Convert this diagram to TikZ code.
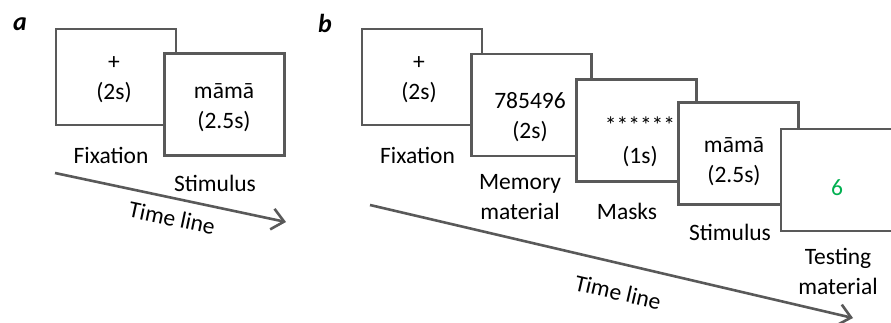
\documentclass[tikz,border=0pt]{standalone}
\usepackage{fontspec}
\setmainfont{Carlito}
\usepackage{tikz}
\usetikzlibrary{arrows.meta}
\definecolor{framegray}{RGB}{89,89,89}
\definecolor{testgreen}{RGB}{0,176,80}

\begin{document}
\begin{tikzpicture}[x=1pt,y=-1pt,
    screen/.style={draw=framegray,line width=2.6pt,fill=white,minimum width=120pt,minimum height=102pt},
    fixscreen/.style={screen,minimum height=96pt},
    txt/.style={align=center,font=\fontsize{23.5}{30}\selectfont,inner sep=0pt},
    panel/.style={font=\fontsize{26}{30}\selectfont\bfseries\itshape,inner sep=0pt},
    timeline/.style={draw=framegray,line width=2.6pt,-{Straight Barb[length=12pt,width=21pt]}}]
  \useasboundingbox (0,0) rectangle (891,322);
  \clip (0,0) rectangle (891,322);

  % panel a
  \node[panel] (pa) at (20,24) {a};
  \node[fixscreen] (fixA) at (116,77) {};
  \node[txt] (fixAt) at (114,80) {+\\(2s)};
  \node[screen] (stimA) at (224.5,104.5) {};
  \node[txt] (stimAt) at (224,108) {māmā\\(2.5s)};
  \node[txt] (fixAl) at (111,155) {Fixation};
  \node[txt] (stimAl) at (215,183) {Stimulus};
  \coordinate (tA1) at (55,173);
  \coordinate (tA2) at (286,222);
  \draw[timeline] (tA1) -- (tA2);
  \node[txt,rotate=-12] (tAl) at (172,218) {Time line};

  % panel b
  \node[panel] (pb) at (325,23) {b};
  \node[fixscreen] (fixB) at (422,77) {};
  \node[txt] (fixBt) at (419,80) {+\\(2s)};
  \node[screen] (memB) at (531.5,105) {};
  \node[txt] (memBt) at (530,117.5) {785496\\(2s)};
  \node[screen] (maskB) at (636.5,130.5) {};
  \node[txt] (maskBt) at (640,142) {******\\(1s)};
  \node[screen] (stimB) at (738.5,153.5) {};
  \node[txt] (stimBt) at (734,162) {māmā\\(2.5s)};
  \node[screen] (testB) at (841,180) {};
  \node[txt,text=testgreen] (testBt) at (837,188) {6};
  \node[txt] (fixBl) at (417.5,155) {Fixation};
  \node[txt] (memBl) at (520,197) {Memory\\material};
  \node[txt] (maskBl) at (627,211) {Masks};
  \node[txt] (stimBl) at (730,232) {Stimulus};
  \node[txt] (testBl) at (838,271) {Testing\\material};
  \coordinate (tB1) at (370,205);
  \coordinate (tB2) at (853,318);
  \draw[timeline] (tB1) -- (tB2);
  \node[txt,rotate=-13] (tBl) at (618,292) {Time line};
\end{tikzpicture}
\end{document}
